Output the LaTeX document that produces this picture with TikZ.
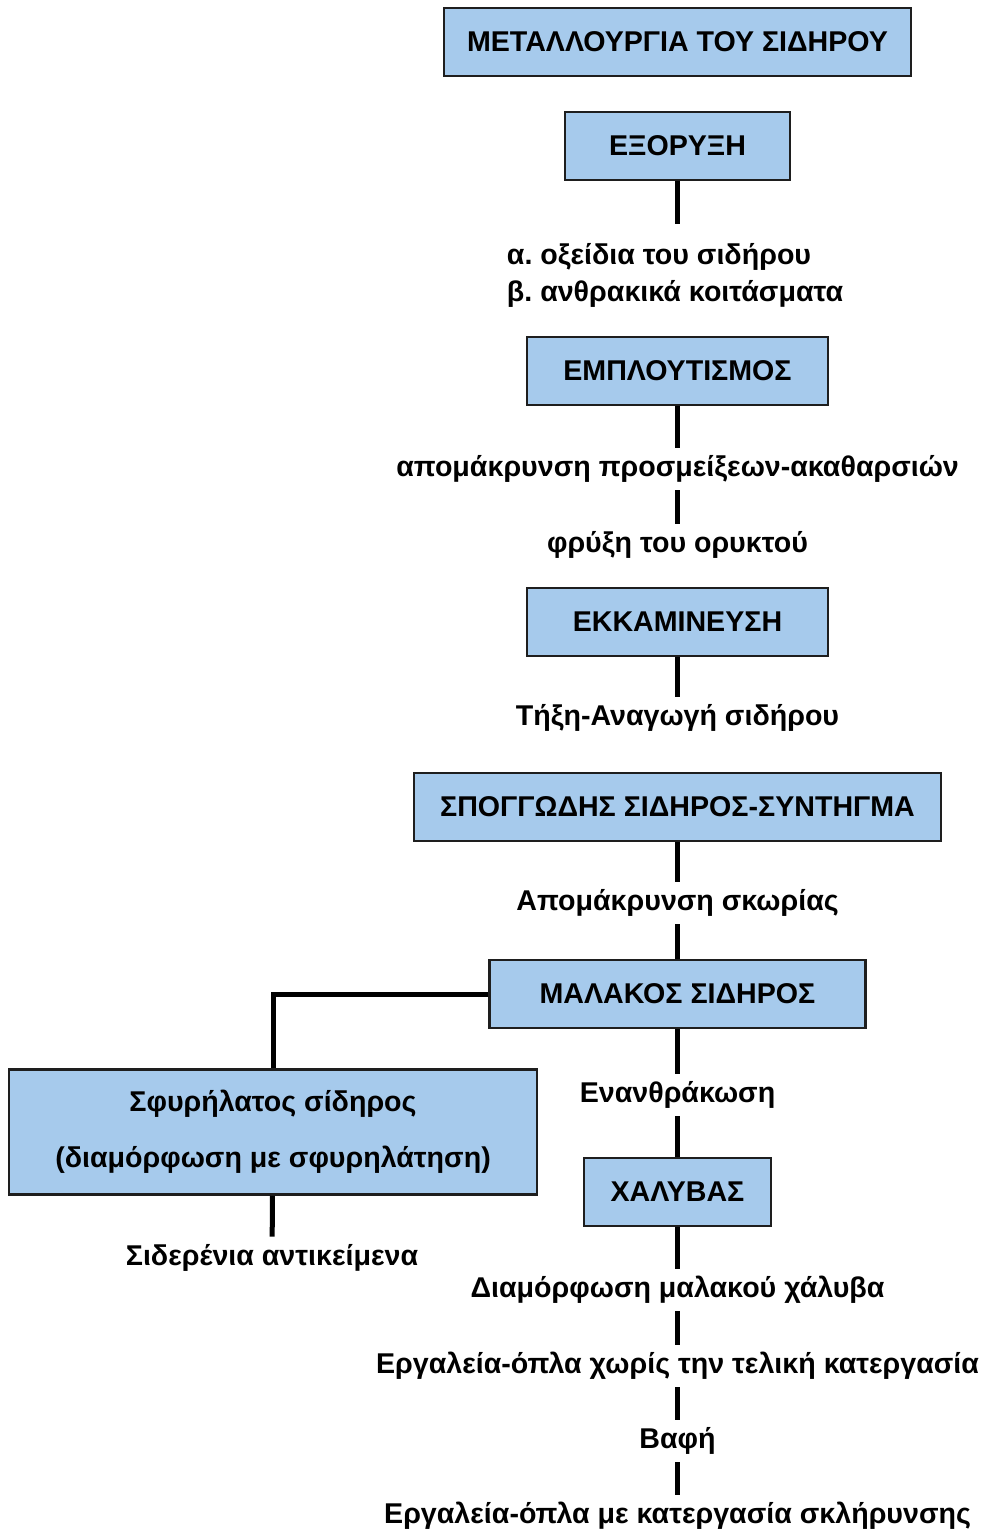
\documentclass[tikz,border=0pt]{standalone}
\usepackage{fontspec}
\setmainfont{Liberation Sans}
\usetikzlibrary{positioning}
\definecolor{boxfill}{RGB}{166,202,236}
\definecolor{ink}{RGB}{30,30,30}
\frenchspacing
\tikzset{
  stage/.style={draw=ink,line width=1.25pt,fill=boxfill,minimum height=34pt,
    inner sep=0pt,font=\fontsize{14.3}{16}\selectfont\bfseries,align=center},
  note/.style={inner sep=0pt,minimum height=21pt,
    font=\fontsize{14.3}{18.5}\selectfont\bfseries,align=center},
  link/.style={line width=2.5pt},
}

\begin{document}
\begin{tikzpicture}[x=0.5pt,y=-0.5pt]
  \useasboundingbox (0,0) rectangle (980,1530);
  % main column
  \node[stage,minimum width=233.5pt] (title) at (677.5,42) {ΜΕΤΑΛΛΟΥΡΓΙΑ ΤΟΥ ΣΙΔΗΡΟΥ};
  \node[stage,minimum width=112.5pt] (mine) at (677.5,146) {ΕΞΟΡΥΞΗ};
  \node[note,align=left,minimum height=51.5pt] (ores) at (675,275.5) {α. οξείδια του σιδήρου\\β. ανθρακικά κοιτάσματα};
  \node[stage,minimum width=150.5pt] (enrich) at (677.5,371) {ΕΜΠΛΟΥΤΙΣΜΟΣ};
  \node[note] (purify) at (677.5,469) {απομάκρυνση προσμείξεων-ακαθαρσιών};
  \node[note] (roast) at (677.5,545) {φρύξη του ορυκτού};
  \node[stage,minimum width=150.5pt] (smelt) at (677.5,622) {ΕΚΚΑΜΙΝΕΥΣΗ};
  \node[note] (reduce) at (677.5,718) {Τήξη-Αναγωγή σιδήρου};
  \node[stage,minimum width=263.5pt] (sponge) at (677.5,807) {ΣΠΟΓΓΩΔΗΣ ΣΙΔΗΡΟΣ-ΣΥΝΤΗΓΜΑ};
  \node[note] (slag) at (677.5,903) {Απομάκρυνση σκωρίας};
  \node[stage,minimum width=188pt] (soft) at (677.5,994) {ΜΑΛΑΚΟΣ ΣΙΔΗΡΟΣ};
  \node[note] (carb) at (677.5,1095) {Ενανθράκωση};
  \node[stage,minimum width=93.5pt] (steel) at (677.5,1192) {ΧΑΛΥΒΑΣ};
  \node[note] (shape) at (677.5,1290) {Διαμόρφωση μαλακού χάλυβα};
  \node[note] (tools) at (677.5,1366) {Εργαλεία-όπλα χωρίς την τελική κατεργασία};
  \node[note] (quench) at (677.5,1441) {Βαφή};
  \node[note] (hard) at (677.5,1516) {Εργαλεία-όπλα με κατεργασία σκλήρυνσης};

  % side branch
  \node[stage,minimum width=264pt,minimum height=62.5pt,
    font=\fontsize{14.3}{28}\selectfont\bfseries] (wrought) at (273,1132)
    {Σφυρήλατος σίδηρος\\(διαμόρφωση με σφυρηλάτηση)};
  \node[note] (items) at (272,1258) {Σιδερένια αντικείμενα};

  \draw[link] (mine) -- (mine |- ores.north);
  \draw[link] (enrich) -- (purify);
  \draw[link] (purify) -- (roast);
  \draw[link] (smelt) -- (reduce);
  \draw[link] (sponge) -- (slag);
  \draw[link] (slag) -- (soft);
  \draw[link] (soft) -- (carb);
  \draw[link] (carb) -- (steel);
  \draw[link] (steel) -- (shape);
  \draw[link] (shape) -- (tools);
  \draw[link] (tools) -- (quench);
  \draw[link] (quench) -- (hard);
  \draw[link] (soft.west) -| (wrought.north);
  \draw[link] (wrought) -- (items);
\end{tikzpicture}
\end{document}
